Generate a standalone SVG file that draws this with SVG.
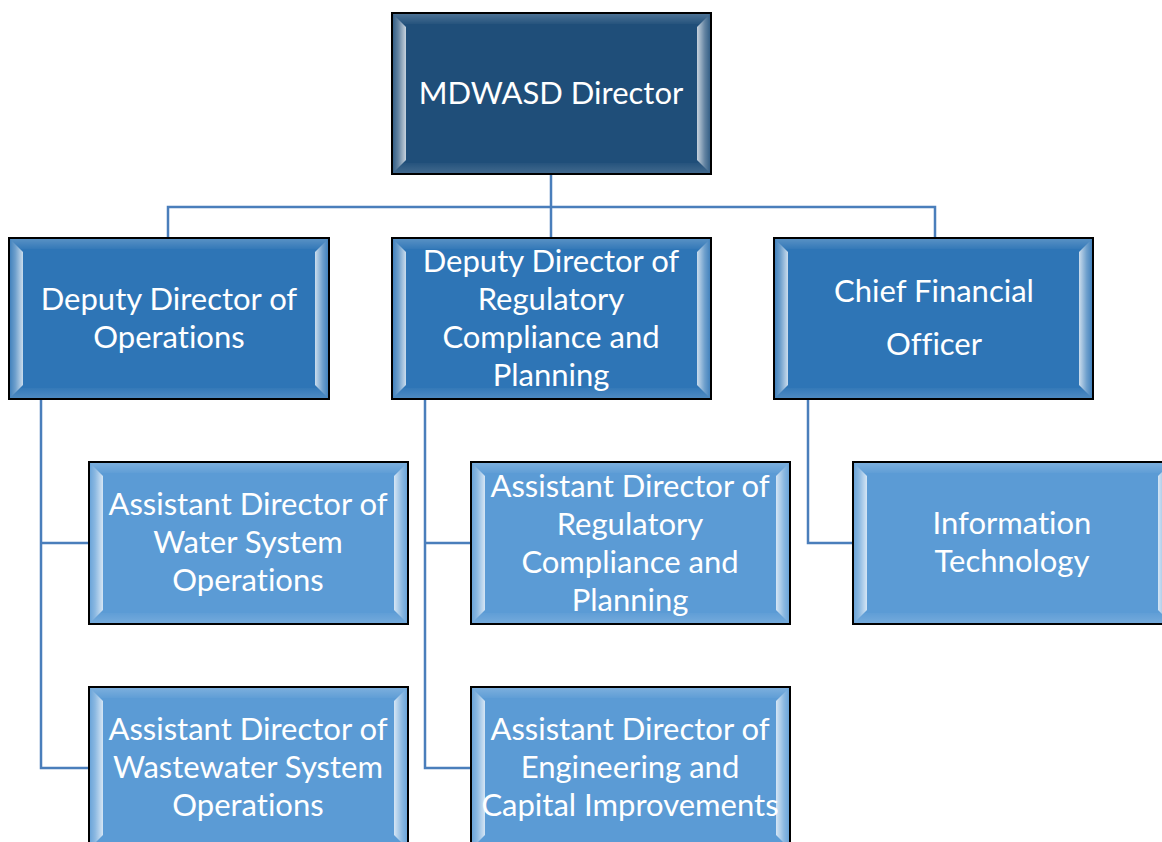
<svg xmlns="http://www.w3.org/2000/svg" width="1162" height="842" viewBox="0 0 1162 842">
<defs>
<linearGradient id="bl" x1="0" y1="0" x2="1" y2="0">
<stop offset="0" stop-color="#fff" stop-opacity="0.1"/>
<stop offset="0.4" stop-color="#fff" stop-opacity="0.3"/>
<stop offset="1" stop-color="#fff" stop-opacity="0.75"/>
</linearGradient>
<linearGradient id="br" x1="1" y1="0" x2="0" y2="0">
<stop offset="0" stop-color="#fff" stop-opacity="0.1"/>
<stop offset="0.4" stop-color="#fff" stop-opacity="0.3"/>
<stop offset="1" stop-color="#fff" stop-opacity="0.75"/>
</linearGradient>
<linearGradient id="bt" x1="0" y1="0" x2="0" y2="1">
<stop offset="0" stop-color="#fff" stop-opacity="0.2"/>
<stop offset="1" stop-color="#fff" stop-opacity="0.03"/>
</linearGradient>
<linearGradient id="bb" x1="0" y1="1" x2="0" y2="0">
<stop offset="0" stop-color="#fff" stop-opacity="0.15"/>
<stop offset="1" stop-color="#fff" stop-opacity="0.03"/>
</linearGradient>
</defs>
<style>
.box{stroke:#000;stroke-width:2}
.l1{fill:#1F4E79}.l2{fill:#2E75B6}.l3{fill:#5B9BD5}
.bl{fill:url(#bl)}.br{fill:url(#br)}.bt{fill:url(#bt)}.bb{fill:url(#bb)}
text{font-family:"Lato","Open Sans","Liberation Sans",sans-serif;font-size:31px;fill:#fff;text-anchor:middle;font-variant-ligatures:none;font-feature-settings:"liga" 0,"dlig" 0}
.c{fill:none;stroke:#4A7EBB;stroke-width:2.5}
</style>
<rect width="1162" height="842" fill="#fff"/>
<g id="connectors">
<path class="c" d="M551 174V207M168 238V207H935V238M551 207V238"/>
<path class="c" d="M41 399V768H89M41 543H89"/>
<path class="c" d="M425 399V768H471M425 543H471"/>
<path class="c" d="M808 399V543H853"/>
</g>
<g id="director">
<rect class="box l1" x="392" y="13" width="319" height="161"/>
<polygon class="bt" points="393,14 710,14 700,24 403,24"/>
<polygon class="bb" points="393,173 710,173 700,163 403,163"/>
<polygon class="bl" points="393,14 406,27 406,160 393,173"/>
<polygon class="br" points="710,14 697,27 697,160 710,173"/>
<text x="551" y="104">MDWASD Director</text>
</g>
<g id="dep-ops">
<rect class="box l2" x="9" y="238" width="320" height="161"/>
<polygon class="bt" points="10,239 328,239 318,249 20,249"/>
<polygon class="bb" points="10,398 328,398 318,388 20,388"/>
<polygon class="bl" points="10,239 23,252 23,385 10,398"/>
<polygon class="br" points="328,239 315,252 315,385 328,398"/>
<text x="169" y="310">Deputy Director of</text>
<text x="169" y="348">Operations</text>
</g>
<g id="dep-reg">
<rect class="box l2" x="392" y="238" width="319" height="161"/>
<polygon class="bt" points="393,239 710,239 700,249 403,249"/>
<polygon class="bb" points="393,398 710,398 700,388 403,388"/>
<polygon class="bl" points="393,239 406,252 406,385 393,398"/>
<polygon class="br" points="710,239 697,252 697,385 710,398"/>
<text x="551" y="272">Deputy Director of</text>
<text x="551" y="310">Regulatory</text>
<text x="551" y="348">Compliance and</text>
<text x="551" y="386">Planning</text>
</g>
<g id="cfo">
<rect class="box l2" x="774" y="238" width="319" height="161"/>
<polygon class="bt" points="775,239 1092,239 1082,249 785,249"/>
<polygon class="bb" points="775,398 1092,398 1082,388 785,388"/>
<polygon class="bl" points="775,239 788,252 788,385 775,398"/>
<polygon class="br" points="1092,239 1079,252 1079,385 1092,398"/>
<text x="934" y="302">Chief Financial</text>
<text x="934" y="355">Officer</text>
</g>
<g id="asst-water">
<rect class="box l3" x="89" y="462" width="319" height="162"/>
<polygon class="bt" points="90,463 407,463 397,473 100,473"/>
<polygon class="bb" points="90,623 407,623 397,613 100,613"/>
<polygon class="bl" points="90,463 103,476 103,610 90,623"/>
<polygon class="br" points="407,463 394,476 394,610 407,623"/>
<text x="248" y="515">Assistant Director of</text>
<text x="248" y="553">Water System</text>
<text x="248" y="591">Operations</text>
</g>
<g id="asst-reg">
<rect class="box l3" x="471" y="462" width="319" height="162"/>
<polygon class="bt" points="472,463 789,463 779,473 482,473"/>
<polygon class="bb" points="472,623 789,623 779,613 482,613"/>
<polygon class="bl" points="472,463 485,476 485,610 472,623"/>
<polygon class="br" points="789,463 776,476 776,610 789,623"/>
<text x="630" y="497">Assistant Director of</text>
<text x="630" y="535">Regulatory</text>
<text x="630" y="573">Compliance and</text>
<text x="630" y="611">Planning</text>
</g>
<g id="it">
<rect class="box l3" x="853" y="462" width="319" height="162"/>
<polygon class="bt" points="854,463 1171,463 1161,473 864,473"/>
<polygon class="bb" points="854,623 1171,623 1161,613 864,613"/>
<polygon class="bl" points="854,463 867,476 867,610 854,623"/>
<polygon class="br" points="1171,463 1158,476 1158,610 1171,623"/>
<text x="1012" y="534">Information</text>
<text x="1012" y="572">Technology</text>
</g>
<g id="asst-wastewater">
<rect class="box l3" x="89" y="687" width="319" height="162"/>
<polygon class="bt" points="90,688 407,688 397,698 100,698"/>
<polygon class="bl" points="90,688 103,701 103,835 90,848"/>
<polygon class="br" points="407,688 394,701 394,835 407,848"/>
<text x="248" y="740">Assistant Director of</text>
<text x="248" y="778">Wastewater System</text>
<text x="248" y="816">Operations</text>
</g>
<g id="asst-eng">
<rect class="box l3" x="471" y="687" width="319" height="162"/>
<polygon class="bt" points="472,688 789,688 779,698 482,698"/>
<polygon class="bl" points="472,688 485,701 485,835 472,848"/>
<polygon class="br" points="789,688 776,701 776,835 789,848"/>
<text x="630" y="740">Assistant Director of</text>
<text x="630" y="778">Engineering and</text>
<text x="630" y="816">Capital Improvements</text>
</g>
</svg>
